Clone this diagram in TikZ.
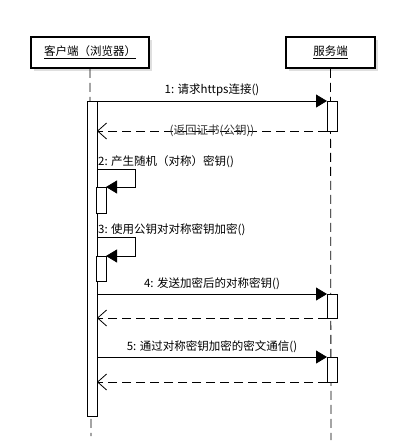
\documentclass[tikz,border=0pt]{standalone}
\usepackage{fontspec}
\setmainfont{Noto Sans CJK SC}
\usetikzlibrary{arrows.meta, shadows}

\begin{document}
\begin{tikzpicture}[x=1pt, y=-1pt,
  every node/.style={font=\fontsize{11.5}{14}\selectfont},
  hdr/.style={draw, line width=1.6pt, fill=white, minimum height=31pt, inner sep=0pt,
    drop shadow={shadow xshift=3pt, shadow yshift=-3pt, fill=gray!25, opacity=1}},
  life/.style={line width=0.8pt, dash pattern=on 9pt off 5pt},
  actbar/.style={draw, line width=0.8pt, fill=white},
  msg/.style={line width=0.8pt, -{Triangle[length=11pt, width=13pt]}},
  ret/.style={line width=0.8pt, dash pattern=on 9pt off 5pt, -{Straight Barb[length=9pt, width=16pt, line width=0.8pt]}}]
  \useasboundingbox (0,0) rectangle (407,447);
  \fill[white] (0,0) rectangle (407,447);

  % participants
  \node[hdr, minimum width=118pt] (client) at (90,52.5) {\underline{客户端（浏览器）}};
  \node[hdr, minimum width=89pt] (server) at (330.5,52.5) {\underline{服务端}};

  % lifelines
  \coordinate (cend) at (91,436);
  \coordinate (send) at (331,440);
  \draw[life] (client.south) -- (cend);
  \draw[life] (server.south) -- (send);

  % activation bars
  \draw[actbar] (87,101) rectangle (97,416);
  \draw[actbar] (327,101) rectangle (337,131);
  \draw[actbar] (96,187) rectangle (106,213);
  \draw[actbar] (96,256) rectangle (106,281);
  \draw[actbar] (327,294) rectangle (337,318);
  \draw[actbar] (327,357) rectangle (337,382);

  % message ends
  \coordinate (c1) at (97,101);  \coordinate (s1) at (327,101);
  \coordinate (s1r) at (327,131); \coordinate (c1r) at (97,131);
  \coordinate (c2) at (97,169);  \coordinate (c2b) at (135,187); \coordinate (c2e) at (106,187);
  \coordinate (c3) at (97,237);  \coordinate (c3b) at (135,256); \coordinate (c3e) at (106,256);
  \coordinate (c4) at (97,294);  \coordinate (s4) at (327,294);
  \coordinate (s4r) at (327,318); \coordinate (c4r) at (97,318);
  \coordinate (c5) at (97,357);  \coordinate (s5) at (327,357);
  \coordinate (s5r) at (327,382); \coordinate (c5r) at (97,382);

  % messages
  \draw[msg] (c1) -- node[above=1pt] (m1) {1: 请求https连接()} (s1);
  \draw[ret] (s1r) -- node[text=black!80] (m1r) {(返回证书(公钥))} (c1r);
  \node[anchor=south west, inner sep=1pt] (m2) at (c2) {2: 产生随机（对称）密钥()};
  \draw[msg] (c2) -| (c2b) -- (c2e);
  \node[anchor=south west, inner sep=1pt] (m3) at (c3) {3: 使用公钥对对称密钥加密()};
  \draw[msg] (c3) -| (c3b) -- (c3e);
  \draw[msg] (c4) -- node[above=1pt] (m4) {4: 发送加密后的对称密钥()} (s4);
  \draw[ret] (s4r) -- (c4r);
  \draw[msg] (c5) -- node[above=1pt] (m5) {5: 通过对称密钥加密的密文通信()} (s5);
  \draw[ret] (s5r) -- (c5r);
\end{tikzpicture}
\end{document}
